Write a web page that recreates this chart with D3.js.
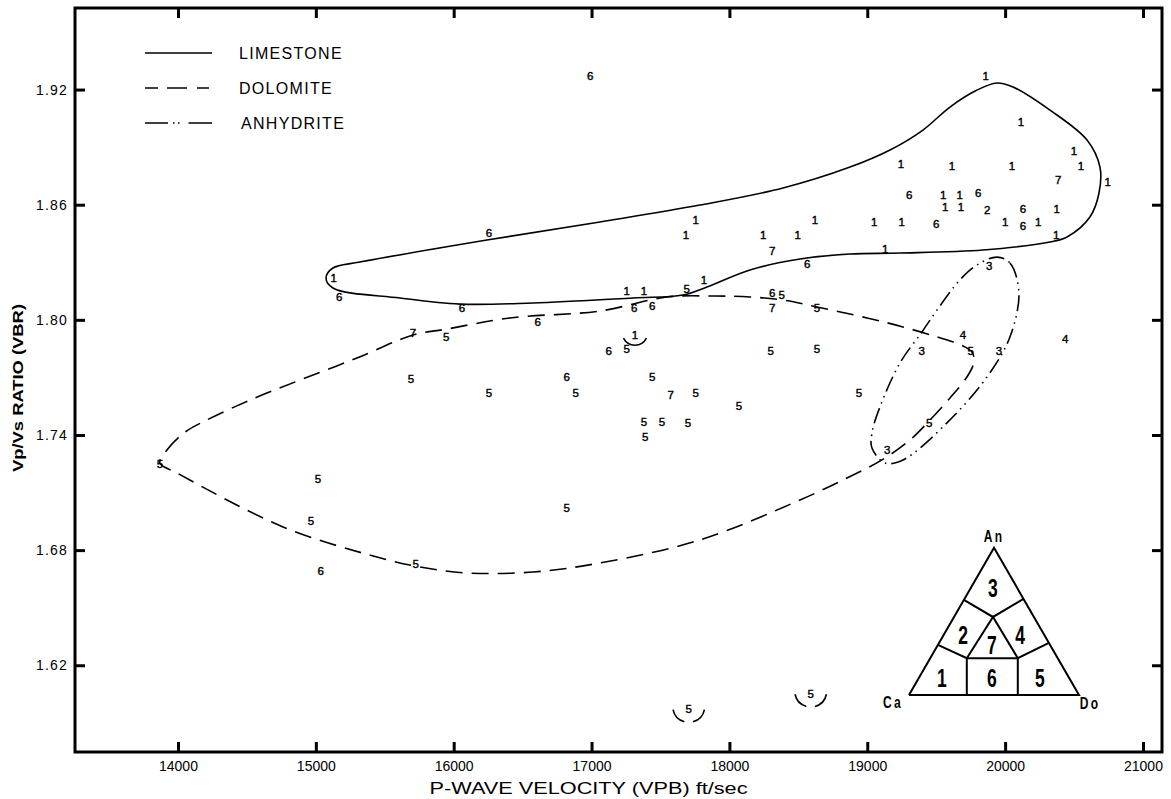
<!DOCTYPE html>
<html lang="en">
<head>
<meta charset="UTF-8">
<title>Vp/Vs ratio vs P-wave velocity</title>
<script src="https://d3js.org/d3.v7.min.js"></script>
<style>
  body, html { margin: 0; padding: 0; background: #fff; }
  svg { display: block; font-family: "Liberation Sans", Arial, sans-serif; }
  .code { font-size: 11.5px; text-anchor: middle; dominant-baseline: central; fill: #000; stroke: #000; stroke-width: 0.4px; }
  .outline { fill: none; stroke: #000; stroke-width: 1.6px; }
</style>
</head>
<body>
<svg id="chart" width="1171" height="799"></svg>
<script>
// axis ticks
const vpTicks = [14000, 15000, 16000, 17000, 18000, 19000, 20000, 21000];
const vbrTicks = [1.62, 1.68, 1.74, 1.80, 1.86, 1.92];

// sample points: [rock code, Vp ft/sec, Vp/Vs]
const samples = [
  ["6",16990,1.927], ["1",19860,1.927], ["1",20115,1.903],
  ["1",19245,1.881], ["1",19615,1.880], ["1",20050,1.880], ["1",20500,1.888], ["1",20550,1.880],
  ["7",20385,1.873], ["1",20745,1.872],
  ["6",19305,1.865], ["1",19550,1.865], ["1",19670,1.865], ["6",19805,1.866],
  ["1",19565,1.859], ["1",19680,1.859], ["2",19870,1.857], ["6",20130,1.858], ["1",20375,1.858],
  ["1",19050,1.851], ["1",19250,1.851], ["6",19500,1.850], ["1",20000,1.851], ["6",20130,1.849], ["1",20240,1.851],
  ["1",20370,1.844], ["1",19130,1.837],
  ["6",16255,1.845], ["1",17755,1.852], ["1",17685,1.844], ["1",18245,1.844], ["1",18495,1.844], ["1",18620,1.852],
  ["7",18310,1.836], ["6",18565,1.829], ["1",17815,1.821],
  ["1",15130,1.822], ["6",15170,1.812],
  ["1",17255,1.815], ["1",17380,1.815], ["5",17690,1.816], ["6",18310,1.814], ["5",18380,1.813],
  ["6",16060,1.806], ["6",17310,1.806], ["6",17440,1.807], ["7",18310,1.806], ["5",18635,1.806],
  ["6",16610,1.799], ["7",15705,1.793], ["5",15945,1.791], ["1",17315,1.792],
  ["6",17125,1.784], ["5",17255,1.785],
  ["4",19695,1.792], ["4",20435,1.790], ["3",19395,1.784], ["5",19750,1.784], ["3",19955,1.784],
  ["5",18300,1.784], ["5",18635,1.785],
  ["5",15690,1.769], ["5",16255,1.762], ["6",16820,1.770], ["5",16885,1.762],
  ["5",17440,1.770], ["7",17575,1.761], ["5",17755,1.762], ["5",18070,1.755], ["5",18940,1.762],
  ["5",17380,1.747], ["5",17510,1.747], ["5",17700,1.746], ["5",17390,1.739],
  ["5",19450,1.746], ["3",19145,1.732], ["3",19885,1.828],
  ["5",13870,1.725], ["5",15015,1.717], ["5",14965,1.695], ["5",16820,1.702],
  ["5",15725,1.673], ["6",15035,1.669],
  ["5",17705,1.597], ["5",18590,1.605]
];

// bracketed points
const smileMarks = [[17315, 1.792]];
const splitMarks = [[17705, 1.597], [18590, 1.605]];

// field outlines
const limestone = [
  [15074,1.8218],[15124,1.8270],[15320,1.8301],[16241,1.8416],[17061,1.8510],[17786,1.8598],
  [18389,1.8687],[18875,1.8796],[19165,1.8885],[19404,1.8989],[19600,1.9109],[19790,1.9195],
  [19941,1.9234],[20057,1.9213],[20325,1.9093],[20594,1.8937],[20688,1.8796],[20681,1.8661],
  [20615,1.8536],[20449,1.8432],[20325,1.8406],[19839,1.8364],[19237,1.8348],[18875,1.8343],
  [18512,1.8317],[18149,1.8260],[17837,1.8171],[17663,1.8129],[17300,1.8114],[16575,1.8088],
  [16046,1.8082],[15610,1.8114],[15124,1.8166]
];
const dolomite = [
  [13869,1.7254],[13920,1.7322],[14051,1.7415],[14181,1.7468],[14522,1.7582],[14885,1.7686],
  [15298,1.7801],[15705,1.7921],[15951,1.7952],[16408,1.8010],[17061,1.8046],[17547,1.8119],
  [17895,1.8124],[18149,1.8119],[18389,1.8103],[18635,1.8067],[18998,1.8010],[19259,1.7963],
  [19506,1.7911],[19694,1.7864],[19760,1.7832],[19774,1.7780],[19723,1.7702],[19600,1.7593],
  [19455,1.7478],[19310,1.7374],[19107,1.7270],[18853,1.7176],[18512,1.7061],[17786,1.6853],
  [17061,1.6733],[16575,1.6686],[16096,1.6681],[15755,1.6712],[15443,1.6764],[14762,1.6921],
  [13993,1.7202]
];
const anhydrite = [
  [19941,1.8327],[20035,1.8296],[20100,1.8145],[20035,1.7911],[19868,1.7702],[19578,1.7463],
  [19259,1.7270],[19128,1.7254],[19034,1.7332],[19034,1.7410],[19092,1.7546],[19237,1.7775],
  [19397,1.7937],[19506,1.8051],[19672,1.8208],[19796,1.8286]
];

const legendNames = ["LIMESTONE", "DOLOMITE", "ANHYDRITE"];
const legendDash = [null, "13,9,20,10,12", "23,5,1.5,3.5,1.5,9,24"];
const triLabels = ["3", "2", "7", "4", "1", "6", "5"];

const W = 1171, H = 799;
const m = {left: 75, top: 8, right: 9, bottom: 47};
const svg = d3.select("#chart");

const x = d3.scaleLinear().domain([13253, 21138]).range([m.left, W - m.right]);
const y = d3.scaleLinear().domain([1.5748, 1.9625]).range([H - m.bottom, m.top]);

// axes, ticks drawn inward
function styleAxis(g) {
  g.select(".domain").remove();
  g.selectAll(".tick line").attr("stroke", "#000").attr("stroke-width", 3);
  g.selectAll(".tick text").attr("font-size", 14).attr("fill", "#000")
    .attr("font-family", "Liberation Sans, Arial, sans-serif");
}
svg.append("g").attr("transform", `translate(0,${H - m.bottom})`)
  .call(d3.axisBottom(x).tickValues(vpTicks).tickFormat(d3.format("d")).tickSize(-10).tickPadding(9))
  .call(styleAxis);
svg.append("g").attr("transform", `translate(0,${m.top})`)
  .call(d3.axisTop(x).tickValues(vpTicks).tickFormat("").tickSize(-10))
  .call(styleAxis);
svg.append("g").attr("transform", `translate(${m.left},0)`)
  .call(d3.axisLeft(y).tickValues(vbrTicks).tickFormat(d3.format(".2f")).tickSize(-10).tickPadding(7))
  .call(styleAxis)
  .selectAll(".tick text").attr("letter-spacing", 1.2);
svg.append("g").attr("transform", `translate(${W - m.right},0)`)
  .call(d3.axisRight(y).tickValues(vbrTicks).tickFormat("").tickSize(-10))
  .call(styleAxis);

svg.append("rect")
  .attr("x", m.left).attr("y", m.top)
  .attr("width", W - m.left - m.right).attr("height", H - m.top - m.bottom)
  .attr("fill", "none").attr("stroke", "#000").attr("stroke-width", 3);

// axis titles
svg.append("text")
  .attr("x", (m.left + W - m.right) / 2 - 30).attr("y", 794)
  .attr("text-anchor", "middle").attr("font-size", 16)
  .attr("textLength", 318).attr("lengthAdjust", "spacingAndGlyphs")
  .text("P-WAVE VELOCITY (VPB) ft/sec");
svg.append("text")
  .attr("transform", "translate(23,388) rotate(-90)")
  .attr("text-anchor", "middle").attr("font-size", 15).attr("font-weight", "bold")
  .attr("textLength", 168).attr("lengthAdjust", "spacingAndGlyphs")
  .text("Vp/Vs RATIO (VBR)");

// field outlines
const line = d3.line().x(d => x(d[0])).y(d => y(d[1])).curve(d3.curveCatmullRomClosed.alpha(0.5));
svg.append("path").attr("class", "outline").attr("d", line(limestone));
svg.append("path").attr("class", "outline").attr("d", line(dolomite)).attr("stroke-dasharray", "17,9");
svg.append("path").attr("class", "outline").attr("d", line(anhydrite)).attr("stroke-dasharray", "16,5,1.5,5,1.5,5");

// sample codes
svg.append("g").selectAll("text").data(samples).join("text")
  .attr("class", "code")
  .attr("x", d => x(d[1])).attr("y", d => y(d[2]))
  .text(d => d[0]);

// brackets under some codes
svg.append("g").selectAll("path").data(smileMarks).join("path")
  .attr("class", "outline").attr("stroke-width", 1.3)
  .attr("d", d => { const p = d3.path(); const cx = x(d[0]), cy = y(d[1]) - 3;
    p.moveTo(cx + 13 * Math.cos(0.48), cy + 13 * Math.sin(0.48));
    p.arc(cx, cy, 13, 0.48, Math.PI - 0.48); return p.toString(); });
svg.append("g").selectAll("path").data(splitMarks).join("path")
  .attr("class", "outline").attr("stroke-width", 1.3)
  .attr("d", d => { const p = d3.path(); const cx = x(d[0]), cy = y(d[1]) - 3, r = 16;
    p.moveTo(cx + r * Math.cos(0.2), cy + r * Math.sin(0.2)); p.arc(cx, cy, r, 0.2, 1.3);
    p.moveTo(cx + r * Math.cos(1.85), cy + r * Math.sin(1.85)); p.arc(cx, cy, r, 1.85, Math.PI - 0.2);
    return p.toString(); });

// legend
const lg = svg.append("g").selectAll("g").data(legendNames).join("g")
  .attr("transform", (d, i) => `translate(145,${53 + i * 35})`);
lg.append("line").attr("x1", 0).attr("x2", 67)
  .attr("stroke", "#000").attr("stroke-width", 1.6)
  .attr("stroke-dasharray", (d, i) => legendDash[i]);
lg.append("text").attr("x", (d, i) => i === 2 ? 96 : 94).attr("dy", "0.36em")
  .attr("font-size", 16).attr("letter-spacing", 1.3).text(d => d);

// ternary inset (An top, Ca left, Do right)
const tri = {x: W - 262, y: H - 104, s: 170};
tri.h = tri.s * 0.866;
const P = (u, v) => [tri.x + tri.s * u, tri.y - tri.h * v];
const inset = svg.append("g").attr("fill", "none").attr("stroke", "#000").attr("stroke-width", 2);
const segs = [
  [P(0, 0), P(1, 0), P(0.5, 1), P(0, 0)],
  [P(0.323, 0.646), P(0.494, 0.53), P(0.6735, 0.653)],
  [P(0.17, 0.34), P(0.34, 0.25), P(0.494, 0.53), P(0.64, 0.25), P(0.823, 0.354)],
  [P(0.34, 0.25), P(0.64, 0.25)],
  [P(0.34, 0.25), P(0.34, 0)],
  [P(0.64, 0.25), P(0.64, 0)]
];
inset.selectAll("path").data(segs).join("path").attr("d", d3.line());
const triPos = [[0.494, 0.728], [0.318, 0.408], [0.488, 0.34], [0.653, 0.408], [0.194, 0.116], [0.488, 0.116], [0.77, 0.116]];
svg.append("g").selectAll("text").data(triLabels).join("text")
  .attr("transform", (d, i) => { const p = P(...triPos[i]); return `translate(${p[0]},${p[1]}) scale(0.7,1)`; })
  .attr("text-anchor", "middle").attr("dominant-baseline", "central")
  .attr("font-size", 25).attr("font-weight", "bold").text(d => d);
const corner = [["An", P(0.5, 1.075)], ["Ca", P(-0.094, -0.05)], ["Do", P(1.065, -0.055)]];
svg.append("g").selectAll("text").data(corner).join("text")
  .attr("transform", d => `translate(${d[1][0]},${d[1][1]}) scale(0.75,1)`)
  .attr("text-anchor", "middle").attr("dominant-baseline", "central")
  .attr("font-size", 16).attr("font-weight", "bold").attr("letter-spacing", 3).text(d => d[0]);
</script>
</body>
</html>
